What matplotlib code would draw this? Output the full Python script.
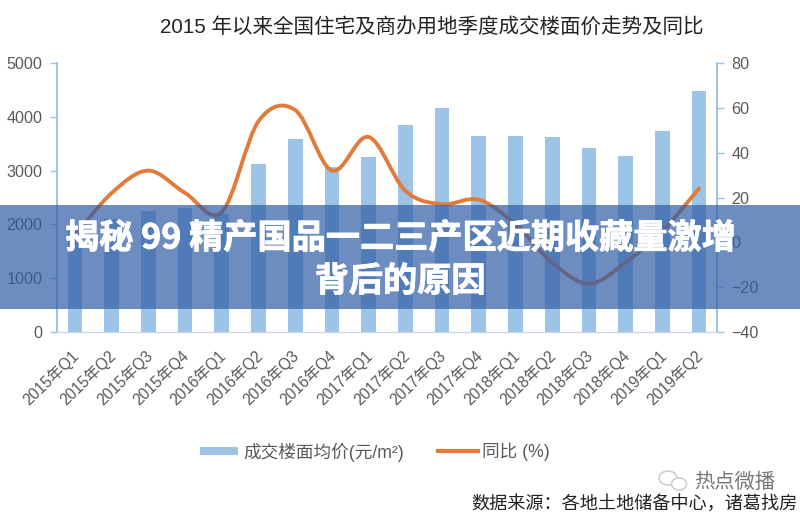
import numpy as np
import matplotlib
matplotlib.use("Agg")
import matplotlib.pyplot as plt
import matplotlib.patheffects as pe
import matplotlib.transforms as mtrans
from matplotlib.path import Path
from matplotlib.patches import PathPatch, Rectangle, Ellipse
from matplotlib.lines import Line2D

plt.rcParams['font.family'] = ['Liberation Sans', 'Noto Sans CJK SC', 'DejaVu Sans']

quarters = ['2015年Q1','2015年Q2','2015年Q3','2015年Q4','2016年Q1','2016年Q2','2016年Q3','2016年Q4',
            '2017年Q1','2017年Q2','2017年Q3','2017年Q4','2018年Q1','2018年Q2','2018年Q3','2018年Q4',
            '2019年Q1','2019年Q2']
price = [1950, 2100, 2240, 2300, 2200, 3130, 3580, 3060, 3250, 3850, 4160, 3650, 3650, 3620, 3420, 3270, 3740, 4480]
yoy = [3, 22, 32, 22, 13.5, 54, 59, 32, 47, 23, 17, 19, 8, -9, -18.5, -9, 5, 24]

title = '2015 年以来全国住宅及商办用地季度成交楼面价走势及同比'
headline = ['揭秘 99 精产国品一二三产区近期收藏量激增', '背后的原因']
legend_bar = '成交楼面均价(元/m²)'
legend_line = '同比 (%)'
source = '数据来源\uff1a各地土地储备中心\uff0c诸葛找房'
mark = '热点微播'

W, H = 800, 515
fig = plt.figure(figsize=(W/100, H/100), dpi=100, facecolor='white')
ax = fig.add_axes([57/W, 1-332/H, 660/W, 269/H])
ax2 = ax.twinx()
x = np.arange(len(quarters))

ax.bar(x, price, width=0.4, color='#9DC3E6', zorder=2)
ax.set_xlim(-0.49, 17.49)
ax.set_ylim(0, 5000)
ax.set_yticks(range(0, 5001, 1000))
ax2.set_ylim(-40, 80)
ax2.set_yticks(range(-40, 81, 20))
ax2.set_yticklabels([str(v).replace('-', '\u2212') for v in range(-40, 81, 20)])

# smooth line through the data (Excel-style Bezier smoothing)
xs, ys = x.astype(float), np.array(yoy, float)
verts = [(xs[0], ys[0])]
codes = [Path.MOVETO]
for i in range(len(xs)-1):
    p0 = i-1 if i > 0 else i
    p3 = i+2 if i+2 < len(xs) else i+1
    verts += [(xs[i]+(xs[i+1]-xs[p0])/6, ys[i]+(ys[i+1]-ys[p0])/6),
              (xs[i+1]-(xs[p3]-xs[i])/6, ys[i+1]-(ys[p3]-ys[i])/6),
              (xs[i+1], ys[i+1])]
    codes += [Path.CURVE4]*3
ax2.add_patch(PathPatch(Path(verts, codes), fill=False, edgecolor='#E07B39', lw=2.8, capstyle='round', zorder=3))

ax.set_xticks(x)
ax.set_xticklabels(quarters, rotation=44, ha='right', rotation_mode='anchor', fontsize=11.2, color='#595959')
ax.tick_params(axis='x', length=0, pad=11)
shift = mtrans.ScaledTranslation(-4/100, 0, fig.dpi_scale_trans)
for lab in ax.get_xticklabels():
    lab.set_transform(lab.get_transform() + shift)
ax.tick_params(axis='y', length=5, width=1, color='#9DC3E6', labelsize=11.6, labelcolor='#595959', pad=5.5, direction='out')
ax2.tick_params(axis='y', length=5, width=1, color='#9DC3E6', labelsize=11.6, labelcolor='#595959', pad=5.5, direction='out')
for a in (ax, ax2):
    a.spines['top'].set_visible(False)
    a.spines['left'].set_color('#9DC3E6')
    a.spines['right'].set_color('#9DC3E6')
    a.spines['bottom'].set_color('#C9D6E6')
    a.spines['left'].set_linewidth(1.4)
    a.spines['right'].set_linewidth(1.4)
    a.patch.set_alpha(0)

def px(xp, yp):
    return xp/W, 1-yp/H

fig.text(*px(432, 27), title, ha='center', va='center', fontsize=14.8, color='#222222')

# legend
fig.patches.append(Rectangle(px(200, 455), 38/W, 8/H, transform=fig.transFigure, facecolor='#9DC3E6', lw=0))
fig.lines.append(Line2D([438/W, 478/W], [1-451/H]*2, transform=fig.transFigure, color='#E07B39', lw=3))
fig.text(*px(243, 452), legend_bar, ha='left', va='center', fontsize=12.7, color='#595959')
fig.text(*px(482, 452), legend_line, ha='left', va='center', fontsize=12.7, color='#595959')

# watermark and source
fig.patches.append(Ellipse(px(668, 478), 18/W, 14/H, transform=fig.transFigure, fill=False, edgecolor='#CFCFCF', lw=1.2))
fig.patches.append(Ellipse(px(679, 484), 15/W, 12/H, transform=fig.transFigure, facecolor='white', edgecolor='#CFCFCF', lw=1.2))
fig.text(*px(694, 482), mark, ha='left', va='center', fontsize=14.6, color='#777777')
fig.text(*px(798, 504), source, ha='right', va='center', fontsize=13.1, color='#222222',
         family=['Noto Sans CJK SC', 'DejaVu Sans'])

# banner
fig.patches.append(Rectangle(px(0, 309), 1, 104/H, transform=fig.transFigure, facecolor='#2F5DA6', lw=0, alpha=0.7, zorder=10))
heavy = [pe.withStroke(linewidth=0.6, foreground='white')]
for line, yp in zip(headline, (238, 281)):
    fig.text(*px(400, yp), line, ha='center', va='center', fontsize=24.6, color='white', fontweight='bold',
             family=['Noto Sans CJK SC', 'DejaVu Sans'], zorder=11, path_effects=heavy)

fig.savefig('out.png', dpi=100)
